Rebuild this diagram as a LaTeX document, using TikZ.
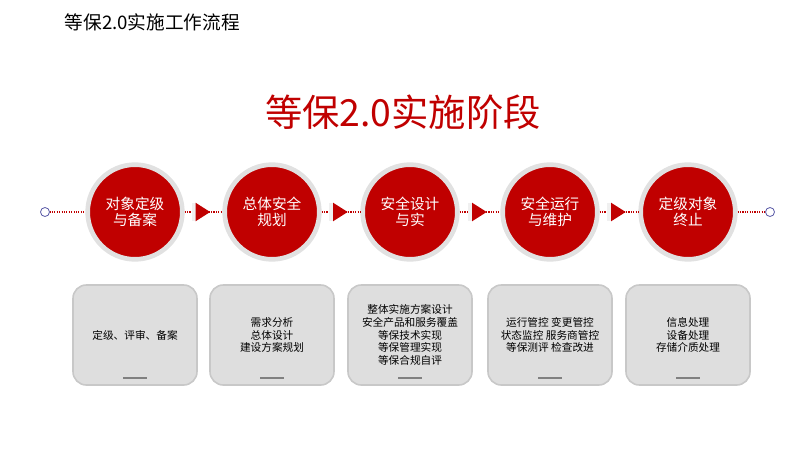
\documentclass[tikz,border=0pt]{standalone}
\usepackage{fontspec}
\newfontfamily\cjk{Noto Sans CJK SC}
\definecolor{myred}{RGB}{192,0,0}
\definecolor{ringgray}{RGB}{225,225,225}
\definecolor{boxgray}{RGB}{222,222,222}
\definecolor{boxedge}{RGB}{200,200,200}
\begin{document}
\begin{tikzpicture}[x=0.75pt,y=-0.75pt,font=\cjk,
  stage/.style={circle,fill=myred,draw=ringgray,line width=3.5pt,minimum size=71pt,inner sep=0,text=white,font=\cjk\fontsize{11}{12}\selectfont,align=center},
  infobox/.style={rounded corners=10,fill=boxgray,draw=boxedge,line width=1.2pt,minimum width=93pt,minimum height=75pt,align=center,font=\cjk\fontsize{8}{9.6}\selectfont},
  link/.style={myred,densely dotted,line width=0.8pt},
  tri/.style={fill=myred}]
\useasboundingbox (0,0) rectangle (800,450);
\node[anchor=west,font=\cjk\fontsize{14}{16}\selectfont] (title) at (60,22) {等保2.0实施工作流程};
\node[text=myred,font=\cjk\fontsize{28}{32}\selectfont] (head) at (403,112) {等保2.0实施阶段};
\coordinate (L) at (45,212); \coordinate (R) at (770,212);
\draw[gray!70!blue,line width=0.6pt,fill=white] (L) circle (4.5);
\draw[gray!70!blue,line width=0.6pt,fill=white] (R) circle (4.5);
\foreach \i/\x/\t/\b in {1/135/{对象定级\\与备案}/{定级、评审、备案},
  2/272/{总体安全\\规划}/{需求分析\\总体设计\\建设方案规划},
  3/410/{安全设计\\与实}/{整体实施方案设计\\安全产品和服务覆盖\\等保技术实现\\等保管理实现\\等保合规自评},
  4/550/{安全运行\\与维护}/{运行管控 变更管控\\状态监控 服务商管控\\等保测评 检查改进},
  5/688/{定级对象\\终止}/{信息处理\\设备处理\\存储介质处理}}{
  \node[stage] (c\i) at (\x,212) {\t};
  \node[infobox] (b\i) at (\x,335) {\b};
  \draw[gray,line width=1.2pt] (\x-12,378) -- (\x+12,378);
}
\draw[link] ([xshift=4.5*0.75pt]L) -- (c1.west);
\draw[link] (c5.east) -- ([xshift=-4.5*0.75pt]R);
\foreach \a/\b in {1/2,2/3,3/4,4/5}{
  \draw[link] (c\a.east) -- (c\b.west);
  \path (c\a.east) -- (c\b.west) coordinate[pos=0.5] (m\a);
  \fill[white!88!gray] ([xshift=-9pt,yshift=-7pt]m\a) rectangle ([xshift=-6pt,yshift=7pt]m\a);
  \fill[tri] ([xshift=-6pt,yshift=-7pt]m\a) -- ([xshift=-6pt,yshift=7pt]m\a) -- ([xshift=5pt]m\a) -- cycle;
}
\end{tikzpicture}
\end{document}
